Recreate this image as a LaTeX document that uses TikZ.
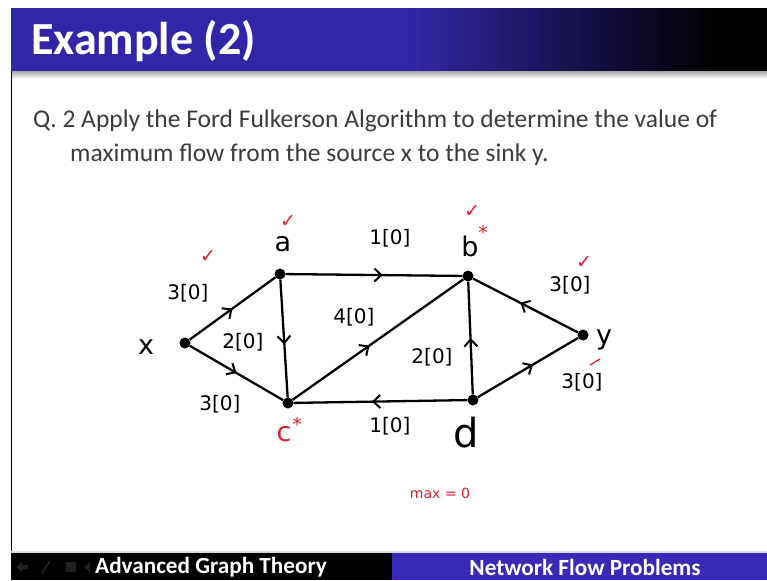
\documentclass[tikz,border=0pt]{standalone}
\usepackage{fontspec}
\setmainfont{Carlito}
\newfontfamily\handfont{DejaVu Sans}
\usetikzlibrary{arrows.meta,decorations.markings}
\definecolor{titleblue}{RGB}{50,38,168}
\definecolor{footblue}{RGB}{56,42,182}
\definecolor{qgray}{RGB}{60,60,60}
\definecolor{inkred}{RGB}{225,30,50}
\tikzset{
  vtx/.style={circle,fill=black,inner sep=0pt,minimum size=11pt},
  edge/.style={line width=2.3pt,black,
    postaction={decorate},
    decoration={markings,mark=at position #1 with {\arrow{Straight Barb[length=7pt,width=13pt,line width=2pt]}}}},
  edge/.default=0.5,
  vlabel/.style={font=\handfont\fontsize{27}{27}\selectfont},
  elabel/.style={font=\handfont\fontsize{20}{20}\selectfont},
  redmark/.style={text=inkred,font=\handfont\fontsize{19}{19}\selectfont},
}
\begin{document}
\begin{tikzpicture}[x=1pt,y=-1pt]
\useasboundingbox (0,0) rectangle (767,580);
\fill[white] (0,0) rectangle (767,580);
% title bar
\fill[titleblue] (11,8) rectangle (400,71);
\foreach \i in {0,...,31} {
  \pgfmathsetmacro{\pct}{100-\i*100/31}
  \fill[titleblue!\pct!black] (400+\i*10,8) rectangle (411+\i*10,71);
}
\fill[black] (719,8) rectangle (767,71);
\foreach \j in {0,...,7} {
  \pgfmathsetmacro{\gp}{70-\j*9}
  \fill[gray!\gp!white] (11,71+\j) rectangle (767,72+\j);
}
\node[anchor=west,text=white,font=\bfseries\fontsize{46}{46}\selectfont,inner sep=0pt] (title) at (31,41) {Example (2)};
% left border
\draw[black,line width=1pt] (11.5,71) -- (11.5,553);
% question
\node[anchor=base west,text=qgray,font=\fontsize{25.5}{25.5}\selectfont,inner sep=0pt] (q1) at (33,128) {Q. 2 Apply the Ford Fulkerson Algorithm to determine the value of};
\node[anchor=base west,text=qgray,font=\fontsize{25.5}{25.5}\selectfont,inner sep=0pt] (q2) at (70,161) {maximum flow from the source x to the sink y.};
% footer
\fill[gray!30] (11,551) rectangle (767,553);
\fill[black] (11,553) rectangle (392,580);
\fill[footblue] (392,553) rectangle (767,580);
\node[anchor=west,text=white,font=\bfseries\fontsize{23.2}{23.2}\selectfont,inner sep=0pt] (f1) at (95,567) {Advanced Graph Theory};
\node[text=white,font=\bfseries\fontsize{23.2}{23.2}\selectfont,inner sep=0pt] (f2) at (585,567) {Network Flow Problems};
\fill[gray!25!black] (16,567) -- (22,562) -- (22,565) -- (28,565) -- (28,569) -- (22,569) -- (22,572) -- cycle;
\draw[gray!30!black,line width=1.5pt] (42,573) -- (50,561);
\fill[gray!25!black] (66,562) rectangle (76,572);
\fill[gray!25!black] (84,567) -- (90,562) -- (90,572) -- cycle;
% graph
\node[vtx] (x) at (185,343) {};
\node[vtx] (a) at (280,274) {};
\node[vtx] (b) at (468,276) {};
\node[vtx] (c) at (288,403) {};
\node[vtx] (d) at (473,400) {};
\node[vtx] (y) at (583,335) {};
\draw[edge] (x) -- (a);
\draw[edge] (x) -- (c);
\draw[edge=0.55] (a) -- (c);
\draw[edge=0.55] (a) -- (b);
\draw[edge=0.45] (c) -- (b);
\draw[edge] (d) -- (b);
\draw[edge=0.55] (d) -- (c);
\draw[edge=0.55] (d) -- (y);
\draw[edge=0.55] (y) -- (b);
% vertex labels
\node[vlabel] (lx) at (146,347) {x};
\node[vlabel] (la) at (283,244) {a};
\node[vlabel] (lb) at (470,246) {b};
\node[vlabel,font=\handfont\fontsize{40}{40}\selectfont] (ld) at (466,433) {d};
\node[vlabel] (ly) at (604,340) {y};
\node[vlabel,text=inkred] (lc) at (284,434) {c};
\node[redmark] (cstar) at (297,424) {*};
\node[redmark] (bstar) at (483,232) {*};
% edge labels
\node[elabel] (lxa) at (188,293) {3[0]};
\node[elabel] (lac) at (243,342) {2[0]};
\node[elabel] (lxc) at (220,404) {3[0]};
\node[elabel] (lab) at (390,238) {1[0]};
\node[elabel] (lcb) at (354,317) {4[0]};
\node[elabel] (ldb) at (432,357) {2[0]};
\node[elabel] (ldc) at (390,426) {1[0]};
\node[elabel] (lyb) at (570,285) {3[0]};
\node[elabel] (ldy) at (582,382) {3[0]};
% red check marks
\node[redmark] (cka) at (288,222) {\char"2713};
\node[redmark] (ckb) at (472,212) {\char"2713};
\node[redmark] (ckxa) at (208,257) {\char"2713};
\node[redmark] (ckyb) at (584,263) {\char"2713};
\draw[inkred,line width=1.3pt] (590,365) -- (600,359);
\node[text=inkred,font=\handfont\fontsize{14}{14}\selectfont] (mx) at (440,493) {max = 0};
\end{tikzpicture}
\end{document}
